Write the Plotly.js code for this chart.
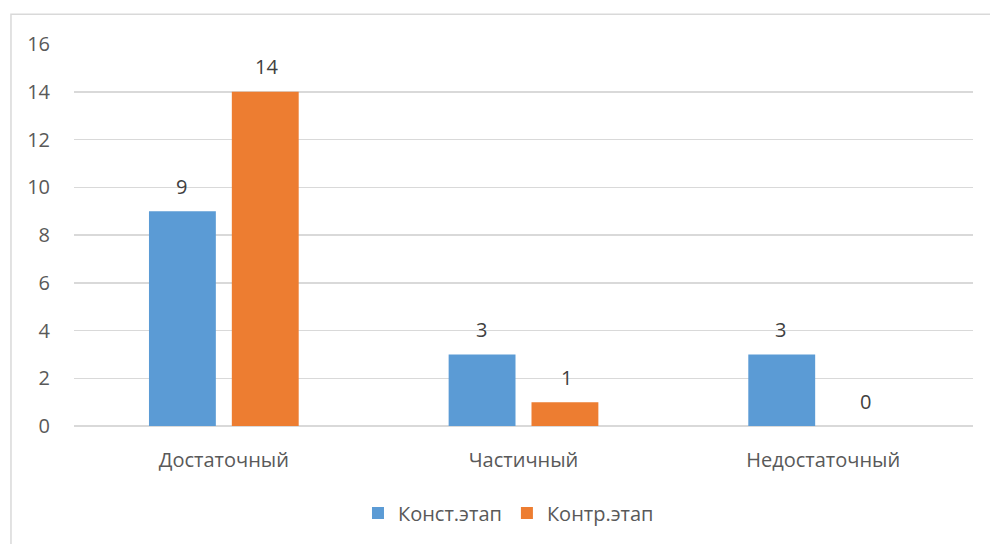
<!DOCTYPE html>
<html><head><meta charset="utf-8">
<script src="https://cdn.plot.ly/plotly-3.0.1.min.js"></script>
<style>html,body{margin:0;padding:0;background:#fff}#chart{width:990px;height:544px}</style>
</head><body><div id="chart"></div>
<script>
const categories = ['Достаточный', 'Частичный', 'Недостаточный'];
const seriesNames = ['Конст.этап', 'Контр.этап'];
const konst = [9, 3, 3];
const kontr = [14, 1, 0];
const colors = ['#5b9bd5', '#ed7d31'];
const yTicks = [0, 2, 4, 6, 8, 10, 12, 14, 16];

const FAM = 'Open Sans, Noto Sans, sans-serif';
const mkFont = (size, color) => ({family: FAM, size: size, color: color});
const series = [konst, kontr];
const traces = series.map((vals, i) => ({
  type: 'bar', x: categories, y: vals, name: seriesNames[i],
  marker: {color: colors[i]}, hoverinfo: 'none'
}));

const offsets = [-42.5, 42.5];
const annotations = [];
series.forEach((vals, i) => vals.forEach((v, j) => annotations.push({
  x: categories[j], y: v, text: String(v), showarrow: false,
  xshift: offsets[i], yshift: 25, yanchor: 'middle',
  font: mkFont(20, '#404040')
})));

const layout = {
  width: 990, height: 544,
  margin: {l: 74, r: 17, t: 44, b: 114},
  paper_bgcolor: '#fff', plot_bgcolor: '#fff',
  font: mkFont(20, '#595959'),
  barmode: 'group', bargap: 0.447, bargroupgap: 0.193,
  showlegend: true,
  legend: {orientation: 'h', x: 0.4833, xanchor: 'center', y: -0.228, yanchor: 'middle',
           font: mkFont(20, '#595959'), itemwidth: 30},
  xaxis: {type: 'category', showgrid: false, zeroline: false, showline: false,
          ticks: 'outside', ticklen: 16, tickcolor: 'rgba(0,0,0,0)', tickfont: mkFont(20, '#595959'),
          automargin: false},
  yaxis: {range: [0, 16], tickvals: yTicks, showgrid: true, gridcolor: '#d9d9d9', gridwidth: 1.5,
          zeroline: true, zerolinecolor: '#d9d9d9', zerolinewidth: 1.5, showline: false,
          ticks: 'outside', ticklen: 19, tickcolor: 'rgba(0,0,0,0)', tickfont: mkFont(20, '#595959'),
          automargin: false},
  annotations: annotations,
  shapes: [{type: 'rect', xref: 'paper', yref: 'paper', x0: -0.0701, x1: 1.05, y0: -0.4, y1: 1.0777,
            line: {color: '#d9d9d9', width: 1.5}, fillcolor: 'rgba(0,0,0,0)', layer: 'below'}]
};
Plotly.newPlot('chart', traces, layout, {displayModeBar: false, staticPlot: true});
</script></body></html>
